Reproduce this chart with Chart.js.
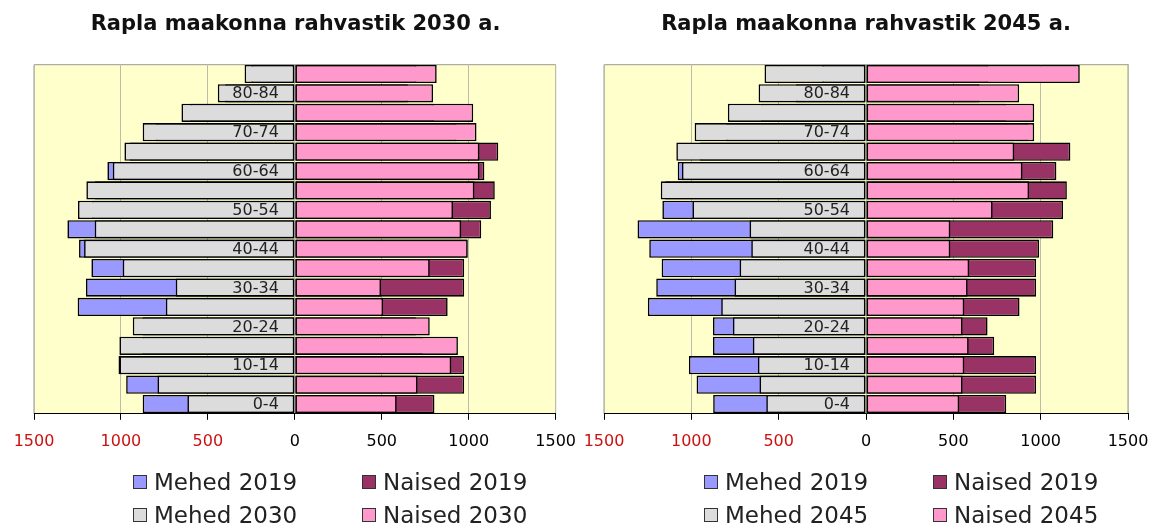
<!DOCTYPE html>
<html>
<head>
<meta charset="utf-8">
<script src="https://cdn.jsdelivr.net/npm/chart.js@4/dist/chart.umd.min.js"></script>
<style>
  body { margin: 0; background: #fff; width: 1153px; height: 526px; overflow: hidden; position: relative; font-family: "DejaVu Sans", sans-serif; }
  .box { position: absolute; top: 0; height: 470px; }
  .legend { position: absolute; top: 469px; display: grid; grid-template-columns: 229px auto; row-gap: 7px; font-size: 23px; line-height: 26px; color: #222; }
  .legend span.item { display: flex; align-items: center; white-space: nowrap; }
  .legend i { display: inline-block; width: 12px; height: 12px; border: 1px solid #333; margin-right: 7px; }
</style>
</head>
<body>
<div class="box" style="left:0;width:580px"><canvas id="c2030"></canvas></div>
<div class="box" style="left:576px;width:577px"><canvas id="c2045"></canvas></div>
<div class="legend" id="l2030" style="left:133px"></div>
<div class="legend" id="l2045" style="left:704px"></div>
<script>
// vanuserühmad, noorimast vanimani
const ageGroups = ['0-4', '5-9', '10-14', '15-19', '20-24', '25-29', '30-34', '35-39', '40-44',
                   '45-49', '50-54', '55-59', '60-64', '65-69', '70-74', '75-79', '80-84', '85+'];

// 2019 (sama mõlemal joonisel)
const mehed2019  = [875, 970, 1014, 876, 876, 1249, 1201, 1170, 1241, 1308, 1166, 1150, 1078, 950, 800, 600, 400, 250];
const naised2019 = [803, 974, 974, 734, 696, 879, 974, 974, 991, 1072, 1128, 1150, 1090, 1170, 930, 800, 650, 700];

// prognoos 2030
const mehed2030  = [618, 790, 1009, 1009, 932, 742, 685, 990, 1212, 1151, 1247, 1199, 1047, 980, 875, 652, 443, 289];
const naised2030 = [586, 706, 900, 938, 776, 508, 496, 776, 995, 957, 910, 1033, 1062, 1062, 1045, 1026, 795, 816];

// prognoos 2045
const mehed2045  = [571, 610, 619, 648, 762, 829, 753, 724, 657, 667, 994, 1175, 1054, 1086, 981, 791, 615, 581];
const naised2045 = [534, 553, 563, 588, 553, 563, 582, 591, 483, 483, 725, 934, 896, 849, 963, 963, 877, 1224];

const xMax = 1500;
const xStep = 500;

// kollane joonisala taust ja hall raam
const plotBg = {
  id: 'plotBg',
  beforeDraw(chart) {
    const { ctx, chartArea: a } = chart;
    ctx.save();
    ctx.fillStyle = '#ffffcc';
    ctx.fillRect(a.left, a.top, a.width, a.height);
    ctx.strokeStyle = '#999999';
    ctx.lineWidth = 1;
    ctx.beginPath();
    ctx.moveTo(a.left, a.bottom);
    ctx.lineTo(a.left, a.top + 0.5);
    ctx.lineTo(a.right, a.top + 0.5);
    ctx.lineTo(a.right, a.bottom);
    ctx.stroke();
    ctx.restore();
  }
};

// vanuserühmade sildid nulli kõrval, üle tulpade (iga teine)
const ageLabels = {
  id: 'ageLabels',
  afterDatasetsDraw(chart) {
    const { ctx, scales: { x, y } } = chart;
    const x0 = x.getPixelForValue(0) - 16;
    ctx.save();
    ctx.font = '16px "DejaVu Sans"';
    ctx.fillStyle = '#222';
    ctx.textAlign = 'right';
    ctx.textBaseline = 'middle';
    ageGroups.forEach((g, i) => {
      if (i % 2 === 0) ctx.fillText(g, x0, y.getPixelForValue(i) + 1);
    });
    ctx.restore();
  }
};

function bar(label, values, color, sign, order) {
  return {
    label: label,
    data: values.map(v => sign * v),
    backgroundColor: color,
    borderColor: '#000',
    borderWidth: 1.6,
    borderSkipped: false,
    grouped: false,
    order: order,
    barPercentage: 0.94,
    categoryPercentage: 1
  };
}

function pyramid(id, legendId, title, year, mehed, naised, padL, padR) {
  const chart = new Chart(document.getElementById(id), {
    type: 'bar',
    data: {
      labels: ageGroups,
      datasets: [
        bar('Mehed 2019', mehed2019, '#9999ff', -1, 1),
        bar('Naised 2019', naised2019, '#993366', 1, 1),
        bar('Mehed ' + year, mehed, '#dcdcdc', -1, 0),
        bar('Naised ' + year, naised, '#ff99cc', 1, 0)
      ]
    },
    options: {
      indexAxis: 'y',
      responsive: true,
      maintainAspectRatio: false,
      animation: false,
      layout: { padding: { left: padL, right: padR, top: 0, bottom: 7 } },
      plugins: {
        legend: { display: false },
        tooltip: { enabled: false },
        title: {
          display: true,
          text: title,
          color: '#111',
          font: { family: 'DejaVu Sans', size: 21, weight: 'bold' },
          padding: { top: 12, bottom: 27 }
        }
      },
      scales: {
        x: {
          min: -xMax,
          max: xMax,
          grid: { color: '#bcbcaa', tickColor: '#000', tickLength: 6 },
          border: { color: '#000', width: 1 },
          ticks: {
            stepSize: xStep,
            maxRotation: 0,
            padding: 4,
            font: { family: 'DejaVu Sans', size: 16, lineHeight: 2.2 },
            color: c => (c.tick && c.tick.value < 0 ? '#cc1111' : '#000'),
            callback: v => Math.abs(v)
          }
        },
        y: {
          reverse: true,
          display: false
        }
      }
    },
    plugins: [plotBg, ageLabels]
  });

  // legend kahes veerus, andmeseeriatest
  const leg = document.getElementById(legendId);
  chart.data.datasets.forEach(ds => {
    const item = document.createElement('span');
    item.className = 'item';
    const sw = document.createElement('i');
    sw.style.background = ds.backgroundColor;
    item.appendChild(sw);
    item.appendChild(document.createTextNode(ds.label));
    leg.appendChild(item);
  });
  return chart;
}

pyramid('c2030', 'l2030', 'Rapla maakonna rahvastik 2030 a.', '2030', mehed2030, naised2030, 34, 23);
pyramid('c2045', 'l2045', 'Rapla maakonna rahvastik 2045 a.', '2045', mehed2045, naised2045, 28, 25);
</script>
</body>
</html>
